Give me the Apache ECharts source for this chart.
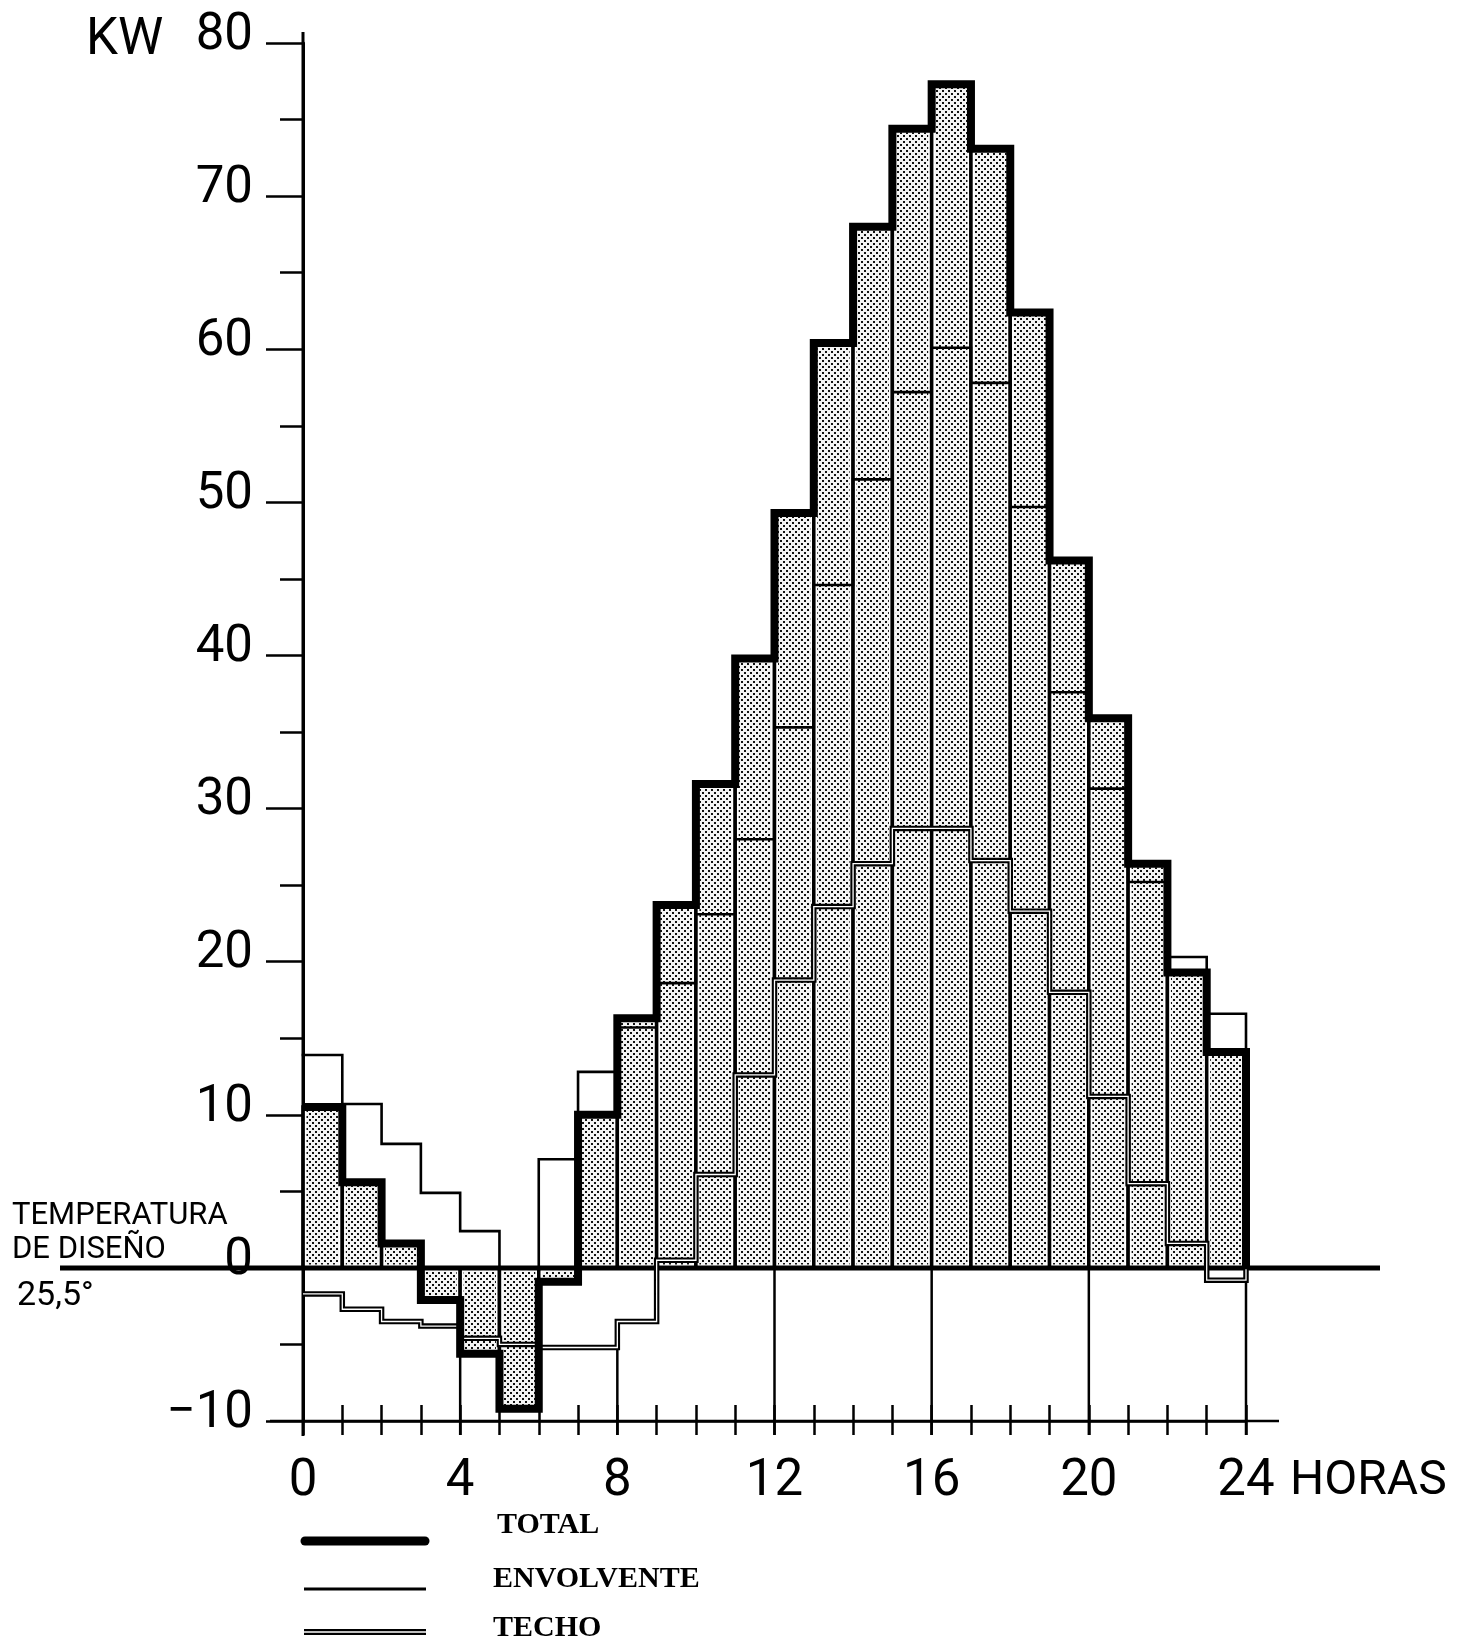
<!DOCTYPE html>
<html><head><meta charset="utf-8">
<script src="https://cdn.jsdelivr.net/npm/echarts@6/dist/echarts.min.js"></script>
<style>html,body{margin:0;padding:0;background:#fff}#chart{width:1458px;height:1641px}</style>
</head><body><div id="chart"></div>
<script>
// ---- data (kW per hour) ----
const hours = [0,1,2,3,4,5,6,7,8,9,10,11,12,13,14,15,16,17,18,19,20,21,22,23];
const total = [10.5,5.6,1.6,-2.1,-5.6,-9.2,-0.9,10.0,16.3,23.7,31.6,39.8,49.3,60.4,68.0,74.4,77.3,73.1,62.4,46.2,35.9,26.4,19.3,14.1];
const envolvente = [13.9,10.7,8.1,4.9,2.4,0.0,7.1,12.8,15.7,18.6,23.1,28.0,35.3,44.6,51.5,57.2,60.1,57.8,49.7,37.6,31.3,25.2,20.3,16.6];
const techo = [-1.7,-2.7,-3.5,-3.8,-4.6,-5.0,-5.2,-5.2,-3.5,0.5,6.1,12.6,18.8,23.6,26.4,28.7,28.7,26.6,23.3,18.0,11.2,5.5,1.6,-0.8];
const yTickLabels = ['\u221210','0','10','20','30','40','50','60','70','80'];
const xTickLabels = ['0','4','8','12','16','20','24'];
const gridHours = [4,8,12,16,20,24];
const legendLabels = ['TOTAL','ENVOLVENTE','TECHO'];

function stepData(arr){
  return hours.map((h,i)=>[h, arr[i]]).concat([[24, arr[arr.length-1]],[24, 0]]);
}
function makePattern(){
  const c = document.createElement('canvas'); c.width = 6; c.height = 6;
  const g = c.getContext('2d');
  g.fillStyle = '#f4f4f4'; g.fillRect(0,0,6,6);
  g.fillStyle = '#111111';
  g.fillRect(0,0,2,2); g.fillRect(3,3,2,2);
  return c;
}
const pattern = {image: makePattern(), repeat: 'repeat'};

const chart = echarts.init(document.getElementById('chart'), null, {renderer:'canvas'});
const labelFont = 'Roboto';

const option = {
  animation: false,
  backgroundColor: '#ffffff',
  grid: {left: 303, right: 212, top: 43, bottom: 220, containLabel: false},
  xAxis: [{
    type: 'value', min: 0, max: 24, interval: 1,
    axisLine: {show: true, onZero: false, lineStyle: {color:'#000', width: 2.5}},
    axisTick: {show: true, inside: true, length: 16, lineStyle: {color:'#000', width: 2.5}},
    axisLabel: {show: true, margin: 36, fontFamily: labelFont, fontSize: 51, lineHeight: 51, color:'#000',
      formatter: v => (v % 4 === 0 ? xTickLabels[v/4] : '')},
    splitLine: {show: false}
  },{
    type: 'value', min: 0, max: 24, interval: 1, position: 'bottom',
    axisLine: {show: false, onZero: false},
    axisTick: {show: true, inside: false, length: 14, lineStyle: {color:'#000', width: 2.5}},
    axisLabel: {show: false}, splitLine: {show: false}
  }],
  yAxis: {
    type: 'value', min: -10, max: 80, interval: 10,
    axisLine: {show: true, onZero: false, lineStyle: {color:'#000', width: 3}},
    axisTick: {show: true, length: 37, lineStyle: {color:'#000', width: 2.5}},
    minorTick: {show: true, splitNumber: 2, length: 23, lineStyle: {color:'#000', width: 2.5}},
    axisLabel: {margin: 50, fontFamily: labelFont, fontSize: 51, lineHeight: 14, verticalAlign: 'bottom', color:'#000',
      formatter: v => yTickLabels[Math.round((v + 10) / 10)]},
    splitLine: {show: false}, minorSplitLine: {show: false}
  },
  series: [
    {
      type: 'custom', name: 'barras', z: 2, silent: true,
      data: hours.map((h,i)=>[h, total[i]]),
      encode: {x: 0, y: 1},
      renderItem: function(params, api){
        const h = api.value(0), v = api.value(1);
        const a = api.coord([h, 0]), b = api.coord([h + 1, v]);
        const x = a[0], w = b[0] - a[0];
        const y = Math.min(a[1], b[1]), hh = Math.abs(b[1] - a[1]);
        const ins = 3.5;
        return {type: 'group', children: [
          {type: 'rect', shape: {x: x, y: y, width: w, height: hh}, style: {fill: '#fff', stroke: '#000', lineWidth: 3.5}},
          {type: 'rect', shape: {x: x + ins, y: y + ins, width: Math.max(0, w - 2*ins), height: Math.max(0, hh - 2*ins)}, style: {fill: pattern}}
        ]};
      }
    },
    {
      type: 'custom', name: 'ejes', z: 3, silent: true,
      data: [[0, 0]], encode: {x: 0, y: 1},
      renderItem: function(params, api){
        const o = api.coord([0, 0]), e = api.coord([24, 0]);
        const bl = api.coord([0, -10]), br = api.coord([24, -10]), tp = api.coord([0, 80]);
        const ch = [
          {type: 'line', shape: {x1: o[0] - 243, y1: o[1], x2: e[0] + 134, y2: o[1]}, style: {stroke: '#000', lineWidth: 5}},
          {type: 'line', shape: {x1: bl[0] - 33, y1: bl[1], x2: br[0] + 33, y2: br[1]}, style: {stroke: '#000', lineWidth: 2.5}},
          {type: 'line', shape: {x1: o[0], y1: tp[1] - 11, x2: o[0], y2: bl[1] + 15}, style: {stroke: '#000', lineWidth: 3}}
        ];
        gridHours.forEach(function(h){
          const vals = [0];
          [h - 1, h].forEach(function(k){ if (k >= 0 && k < 24) { vals.push(total[k], techo[k]); } });
          const s = api.coord([h, Math.min.apply(null, vals)]);
          const b = api.coord([h, -10]);
          ch.push({type: 'line', shape: {x1: s[0], y1: s[1], x2: b[0], y2: b[1] + 14}, style: {stroke: '#000', lineWidth: 2.5}});
        });
        return {type: 'group', children: ch};
      }
    },
    {type: 'line', name: 'TECHO', step: 'end', data: stepData(techo), showSymbol: false, symbol: 'none', clip: false, z: 4,
      lineStyle: {color: '#000', width: 5.5, join: 'miter', cap: 'butt'}},
    {type: 'line', name: 'TECHO_int', step: 'end', data: stepData(techo), showSymbol: false, symbol: 'none', clip: false, z: 5,
      lineStyle: {color: '#fff', width: 1.3, join: 'miter', cap: 'butt'}},
    {type: 'line', name: 'ENVOLVENTE', step: 'end', data: stepData(envolvente), showSymbol: false, symbol: 'none', clip: false, z: 6,
      lineStyle: {color: '#000', width: 2.6, join: 'miter', cap: 'square'}},
    {type: 'line', name: 'TOTAL', step: 'end', data: stepData(total), showSymbol: false, symbol: 'none', clip: false, z: 7,
      lineStyle: {color: '#000', width: 8, join: 'miter', cap: 'butt'}}
  ],
  graphic: [
    {type: 'text', left: 86, top: 16, style: {text: 'KW', font: '51px Roboto', fill: '#000'}},
    {type: 'text', left: 1290, top: 1458, style: {text: 'HORAS', font: '48px Roboto', fill: '#000'}},
    {type: 'text', left: 12, top: 1201, style: {text: 'TEMPERATURA', font: '31px Roboto', fill: '#000'}},
    {type: 'text', left: 12, top: 1235, style: {text: 'DE DISE\u00d1O', font: '31px Roboto', fill: '#000'}},
    {type: 'text', left: 17, top: 1279, style: {text: '25,5\u00b0', font: '34px Roboto', fill: '#000'}},
    // legend
    {type: 'line', shape: {x1: 305, y1: 1541, x2: 425, y2: 1541}, style: {stroke: '#000', lineWidth: 9, lineCap: 'round'}},
    {type: 'text', left: 497, top: 1510, style: {text: legendLabels[0], font: 'bold 30px "Liberation Serif"', fill: '#000'}},
    {type: 'line', shape: {x1: 304, y1: 1589, x2: 426, y2: 1589}, style: {stroke: '#000', lineWidth: 3}},
    {type: 'text', left: 493, top: 1564, style: {text: legendLabels[1], font: 'bold 30px "Liberation Serif"', fill: '#000'}},
    {type: 'line', shape: {x1: 304, y1: 1632, x2: 426, y2: 1632}, style: {stroke: '#000', lineWidth: 6}},
    {type: 'line', shape: {x1: 304, y1: 1632, x2: 426, y2: 1632}, style: {stroke: '#fff', lineWidth: 1.5}},
    {type: 'text', left: 493, top: 1613, style: {text: legendLabels[2], font: 'bold 30px "Liberation Serif"', fill: '#000'}}
  ]
};
chart.setOption(option);
</script>
</body></html>
